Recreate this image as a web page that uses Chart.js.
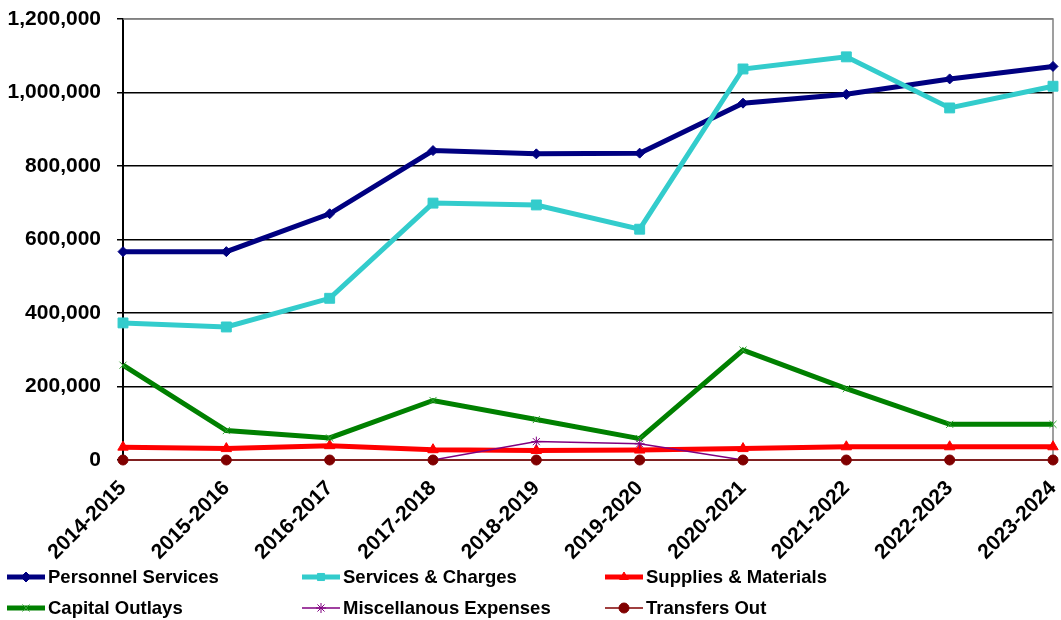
<!DOCTYPE html>
<html>
<head>
<meta charset="utf-8">
<script src="https://cdn.jsdelivr.net/npm/chart.js@4/dist/chart.umd.min.js"></script>
<style>
  html, body { margin: 0; padding: 0; background: #ffffff; }
  #wrap { width: 1061px; height: 620px; }
</style>
</head>
<body>
<div id="wrap"><canvas id="chart" width="1061" height="620"></canvas></div>
<script>
// Fiscal years on the category axis
const categories = ['2014-2015', '2015-2016', '2016-2017', '2017-2018', '2018-2019',
                    '2019-2020', '2020-2021', '2021-2022', '2022-2023', '2023-2024'];

// Expenditure by category, per fiscal year
const personnelServices = [567000, 567000, 670000, 842000, 833000, 835000, 971000, 995000, 1037000, 1071000];
const servicesCharges   = [373000, 362000, 440000, 699000, 694000, 628000, 1064000, 1097000, 958000, 1017000];
const suppliesMaterials = [35000, 31000, 39000, 28000, 26000, 27000, 31000, 36000, 36000, 36000];
const capitalOutlays    = [258000, 80000, 60000, 162000, 110000, 58000, 299000, 194000, 97000, 97000];
const miscExpenses      = [null, null, null, 0, 50000, 44000, 0, null, null, null];
const transfersOut      = [0, 0, 0, 0, 0, 0, 0, 0, 0, 0];

// Value axis ticks
const yTicks = [0, 200000, 400000, 600000, 800000, 1000000, 1200000];

const FONT = "'Liberation Sans', Arial, sans-serif";

function series(label, data, color, width, style, radius, markerColor, markerWidth) {
  return {
    label: label,
    data: data,
    borderColor: color,
    borderWidth: width,
    pointStyle: style,
    pointRadius: radius,
    pointHoverRadius: radius,
    pointBackgroundColor: markerColor || color,
    pointBorderColor: markerColor || color,
    pointBorderWidth: markerWidth || 1,
    tension: 0,
    fill: false,
    spanGaps: false,
    clip: false
  };
}

const datasets = [
  series('Personnel Services', personnelServices, '#000080', 5, 'rectRot', 5),
  series('Services & Charges', servicesCharges, '#33CCCC', 5, 'rect', 7),
  series('Supplies & Materials', suppliesMaterials, '#FF0000', 5, 'triangle', 6),
  series('Capital Outlays', capitalOutlays, '#008000', 5, 'crossRot', 5, '#33A033', 1),
  series('Miscellanous Expenses', miscExpenses, '#800080', 1.5, 'star', 5, '#800080', 1),
  series('Transfers Out', transfersOut, '#800000', 1.5, 'circle', 5)
];
// later series are painted over earlier ones
datasets.forEach((d, i) => { d.order = datasets.length - i; });

// Legend laid out as a fixed 3-column grid under the axis labels
const gridLegend = {
  id: 'gridLegend',
  afterDraw(chart) {
    const ctx = chart.ctx;
    const colX = [7, 302, 605];
    const rowY = [577, 608];
    ctx.save();
    chart.data.datasets.forEach((ds, i) => {
      const x0 = colX[i % 3];
      const y = rowY[Math.floor(i / 3)];
      ctx.strokeStyle = ds.borderColor;
      ctx.lineWidth = ds.borderWidth;
      ctx.lineCap = 'butt';
      ctx.beginPath();
      ctx.moveTo(x0, y);
      ctx.lineTo(x0 + 38, y);
      ctx.stroke();
      ctx.fillStyle = ds.pointBackgroundColor;
      ctx.strokeStyle = ds.pointBorderColor;
      ctx.lineWidth = ds.pointBorderWidth;
      Chart.helpers.drawPoint(ctx, {
        pointStyle: ds.pointStyle,
        radius: Math.min(ds.pointRadius, 5),
        rotation: 0,
        borderWidth: ds.pointBorderWidth
      }, x0 + 19, y);
      ctx.fillStyle = '#000000';
      ctx.font = 'bold 18.5px ' + FONT;
      ctx.textAlign = 'left';
      ctx.textBaseline = 'middle';
      ctx.fillText(ds.label, x0 + 41, y + 1);
    });
    ctx.restore();
  }
};

// Frame lines on the top and right of the plot area
const plotFrame = {
  id: 'plotFrame',
  beforeDatasetsDraw(chart) {
    const a = chart.chartArea;
    const ctx = chart.ctx;
    ctx.save();
    ctx.strokeStyle = '#808080';
    ctx.lineWidth = 1.5;
    ctx.beginPath();
    ctx.moveTo(a.left, a.top);
    ctx.lineTo(a.right, a.top);
    ctx.lineTo(a.right, a.bottom);
    ctx.stroke();
    ctx.restore();
  }
};

new Chart(document.getElementById('chart'), {
  type: 'line',
  data: { labels: categories, datasets: datasets },
  plugins: [plotFrame, gridLegend],
  options: {
    responsive: false,
    animation: false,
    devicePixelRatio: 1,
    layout: { padding: { left: 7, right: 8, top: 19, bottom: 0 } },
    plugins: {
      legend: { display: false },
      tooltip: { enabled: false },
      title: { display: false }
    },
    scales: {
      x: {
        type: 'category',
        offset: false,
        afterFit(scale) {
          scale.height = 160;
          scale.paddingLeft = 0;
          scale.paddingRight = 0;
        },
        grid: {
          color: 'transparent',
          tickColor: '#000000',
          tickLength: 5,
          lineWidth: 1
        },
        border: { color: '#808080', width: 1.5 },
        ticks: {
          autoSkip: false,
          maxRotation: 45,
          minRotation: 45,
          padding: 11,
          color: '#000000',
          font: { family: FONT, size: 21, weight: 'bold' }
        }
      },
      y: {
        min: 0,
        max: 1200000,
        afterFit(scale) {
          scale.width = 116;
          scale.paddingTop = 0;
          scale.paddingBottom = 0;
        },
        afterBuildTicks(scale) { scale.ticks = yTicks.map(v => ({ value: v })); },
        grid: {
          color: (c) => (c.tick && c.tick.value === 1200000) ? '#808080' : '#000000',
          tickColor: '#000000',
          tickLength: 6,
          lineWidth: 1.5
        },
        border: { color: '#000000', width: 2 },
        ticks: {
          padding: 16,
          color: '#000000',
          font: { family: FONT, size: 21, weight: 'bold' },
          callback: (v) => Number(v).toLocaleString('en-US')
        }
      }
    }
  }
});
</script>
</body>
</html>
